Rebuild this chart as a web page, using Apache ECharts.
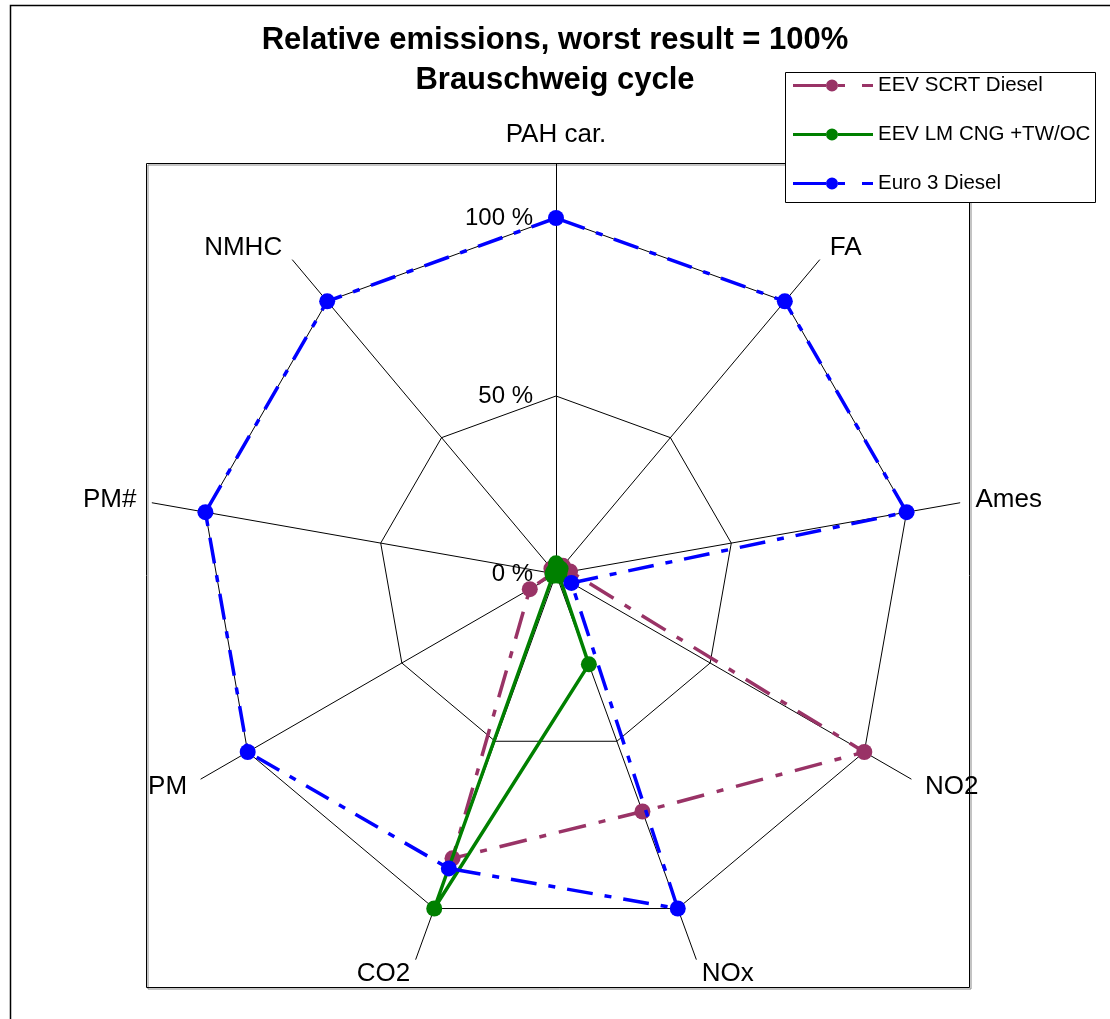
<!DOCTYPE html>
<html><head><meta charset="utf-8">
<script src="https://cdn.jsdelivr.net/npm/echarts@6/dist/echarts.min.js"></script>
<style>html,body{margin:0;padding:0;background:#fff}#c{width:1110px;height:1019px}</style>
</head><body><div id="c"></div>
<script>
// ---- data (clockwise from top) ----
const categories = ['PAH car.', 'FA', 'Ames', 'NO2', 'NOx', 'CO2', 'PM', 'PM#', 'NMHC'];
const seriesNames = ['EEV SCRT Diesel', 'EEV LM CNG +TW/OC', 'Euro 3 Diesel'];
const scrtDiesel = [2, 3, 4, 100, 71, 85, 8.5, 1, 2];
const lmCngTwoc = [3, 2, 1, 1, 27, 100, 1, 1, 1];
const euro3Diesel = [100, 100, 100, 5, 100, 88, 100, 100, 100];
const tickValues = [0, 50, 100];
const tickLabels = ['0 %', '50 %', '100 %'];

// ECharts places indicators counter-clockwise: reorder so the picture reads clockwise
const order = categories.map((_, k) => (categories.length - k) % categories.length);
const reorder = arr => order.map(i => arr[i]);

const FONT = "'Liberation Sans', Arial, sans-serif";
const colors = ['#993366', '#008000', '#0000FF'];
const dashes = [[28, 13, 7, 13], null, [26, 12, 7, 12]];
const seriesValues = [scrtDiesel, lmCngTwoc, euro3Diesel];

const dashedIcon = 'path://M0,5.5H33V8.5H0Z M33,7A6,6 0 1,0 45,7A6,6 0 1,0 33,7Z M45,5.5H52V8.5H45Z M69,5.5H80V8.5H69Z';
const solidIcon = 'path://M0,5.5H33V8.5H0Z M33,7A6,6 0 1,0 45,7A6,6 0 1,0 33,7Z M45,5.5H80V8.5H45Z';

const chart = echarts.init(document.getElementById('c'), null, {renderer: 'canvas'});
const center = [556, 574];

const option = {
  backgroundColor: '#fff',
  animation: false,
  title: {
    text: 'Relative emissions, worst result = 100%\nBrauschweig cycle',
    left: 'center', top: 15,
    textStyle: {fontSize: 31, fontWeight: 'bold', color: '#000', lineHeight: 40, fontFamily: FONT}
  },
  graphic: [
    {type: 'rect', z: -10, shape: {x: 10.5, y: 5.5, width: 1200, height: 1200},
     style: {fill: null, stroke: '#000', lineWidth: 1.5}},
    {type: 'rect', z: -9, shape: {x: 146.5, y: 163.5, width: 823, height: 824},
     style: {fill: null, stroke: '#000', lineWidth: 1, shadowColor: '#888', shadowOffsetX: 1.5, shadowOffsetY: 1.5}},
    {type: 'rect', z: 100, shape: {x: 785.5, y: 72.5, width: 310, height: 130},
     style: {fill: '#fff', stroke: '#000', lineWidth: 1}}
  ],
  legend: {
    orient: 'vertical', left: 793, top: 75, padding: 0,
    itemWidth: 80, itemHeight: 13, itemGap: 28, z: 200,
    itemStyle: {borderWidth: 0},
    textStyle: {fontSize: 20.5, color: '#000', fontFamily: FONT},
    data: seriesNames.map((n, i) => ({name: n, icon: i === 1 ? solidIcon : dashedIcon}))
  },
  radar: [
    {
      center: center, radius: 356, startAngle: 90, shape: 'polygon', splitNumber: 2,
      indicator: order.map((i, k) => {
        const o = {name: categories[i], min: 0, max: 100};
        if (k === 0) o.axisLabel = {show: true};
        return o;
      }),
      axisName: {show: false},
      axisLine: {show: false},
      axisTick: {show: false},
      splitArea: {show: false},
      splitLine: {lineStyle: {color: '#000', width: 1}},
      axisLabel: {
        show: false, fontSize: 24, color: '#000', fontFamily: FONT, margin: 23,
        formatter: v => tickLabels[tickValues.indexOf(v)]
      }
    },
    {
      center: center, radius: 410, startAngle: 90, shape: 'polygon', splitNumber: 1,
      indicator: order.map(i => ({name: categories[i], min: 0, max: 115})),
      nameGap: 16,
      axisName: {color: '#000', fontSize: 26, fontFamily: FONT},
      axisLine: {lineStyle: {color: '#000', width: 1}},
      axisTick: {show: false},
      axisLabel: {show: false},
      splitArea: {show: false},
      splitLine: {show: false}
    }
  ],
  series: seriesNames.map((n, i) => ({
    type: 'radar', name: n, radarIndex: 0, z: 3 + i,
    symbol: 'circle', symbolSize: 16,
    lineStyle: {color: colors[i], width: 3.5, type: dashes[i] || 'solid', cap: 'butt'},
    itemStyle: {color: colors[i]},
    data: [{name: n, value: reorder(seriesValues[i])}]
  }))
};
chart.setOption(option);
</script></body></html>
